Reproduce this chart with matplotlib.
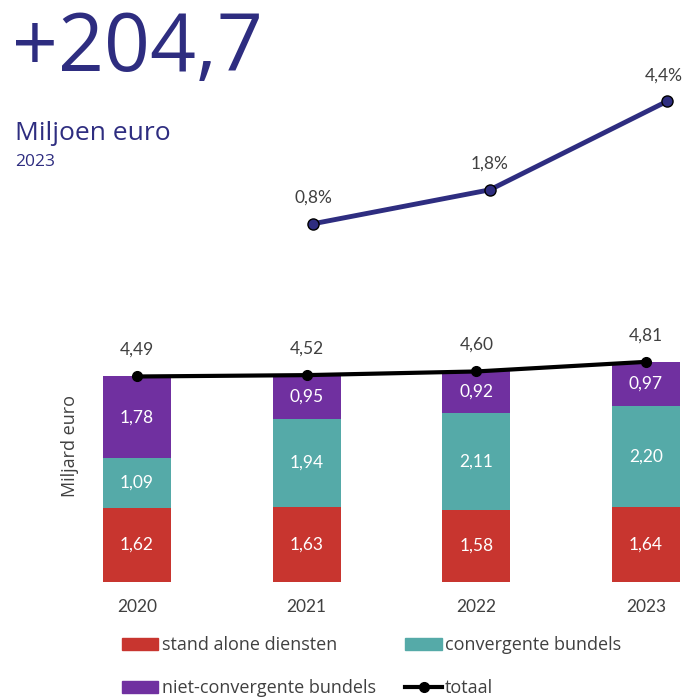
import matplotlib.pyplot as plt
from matplotlib.patches import Patch
from matplotlib.lines import Line2D

jaren = ['2020', '2021', '2022', '2023']
stand_alone = [1.62, 1.63, 1.58, 1.64]
convergent = [1.09, 1.94, 2.11, 2.20]
niet_convergent = [1.78, 0.95, 0.92, 0.97]
totaal = [4.49, 4.52, 4.60, 4.81]
groei_jaren = ['2021', '2022', '2023']
groei = [0.8, 1.8, 4.4]

rood = '#c8352f'
teal = '#55aaa8'
paars = '#7030a0'
navy = '#2e2d80'
grijs = '#404040'

plt.rcParams['font.family'] = ['Lato', 'DejaVu Sans']

fig = plt.figure(figsize=(6.83, 6.98), dpi=100)

# kop
fig.text(0.018, 0.898, '+204,7', fontsize=58, color=navy, family='Open Sans')
fig.text(0.022, 0.80, 'Miljoen euro', fontsize=19, color=navy, family='Open Sans')
fig.text(0.022, 0.762, '2023', fontsize=12.5, color=navy, family='Open Sans')

# staven
ax = fig.add_axes([60.6 / 683, 116 / 698, (680 - 60.6) / 683, 238 / 698])
x = list(range(len(jaren)))
ax.bar(x, stand_alone, width=0.4, color=rood)
bottom2 = stand_alone
ax.bar(x, convergent, width=0.4, bottom=bottom2, color=teal)
bottom3 = [a + b for a, b in zip(stand_alone, convergent)]
ax.bar(x, niet_convergent, width=0.4, bottom=bottom3, color=paars)

for i in x:
    ax.text(i, stand_alone[i] / 2, f'{stand_alone[i]:.2f}'.replace('.', ','),
            ha='center', va='center', color='white', fontsize=12.5)
    ax.text(i, bottom2[i] + convergent[i] / 2, f'{convergent[i]:.2f}'.replace('.', ','),
            ha='center', va='center', color='white', fontsize=12.5)
    ax.text(i, bottom3[i] + niet_convergent[i] / 2, f'{niet_convergent[i]:.2f}'.replace('.', ','),
            ha='center', va='center', color='white', fontsize=12.5)
    ax.text(i, totaal[i] + 0.58, f'{totaal[i]:.2f}'.replace('.', ','),
            ha='center', va='center', color=grijs, fontsize=12.5)

ax.plot(x, totaal, color='black', lw=3, marker='o', markersize=7)

ax.set_xlim(-0.45, 3.2)
ax.set_ylim(0, 5.2)
ax.set_xticks(x)
ax.set_xticklabels(jaren, color=grijs, fontsize=12.5)
ax.tick_params(axis='x', length=0, pad=12)
ax.set_yticks([])
ax.set_ylabel('Miljard euro', color=grijs, fontsize=13, family='Open Sans')
ax.yaxis.set_label_coords(0.03, 0.57)
for s in ax.spines.values():
    s.set_visible(False)

# groeilijn
ax2 = fig.add_axes([242.2 / 683, (698 - 251) / 698, 438.8 / 683, 170 / 698])
gx = [1, 2, 3]
ax2.plot(gx, groei, color=navy, lw=3.5, marker='o', markersize=8,
         markerfacecolor=navy, markeredgecolor='black', markeredgewidth=1)
for xi, g in zip(gx, groei):
    ax2.text(xi - (0.02 if xi == 3 else 0), g + 0.76, f'{g:.1f}%'.replace('.', ','),
             ha='center', va='center', color=grijs, fontsize=12.5)
ax2.set_xlim(0.6, 3.08)
ax2.set_ylim(0, 5)
ax2.axis('off')

# legenda
handles = [
    Patch(color=rood, label='stand alone diensten'),
    Patch(color=paars, label='niet-convergente bundels'),
    Patch(color=teal, label='convergente bundels'),
    Line2D([0], [0], color='black', lw=3, marker='o', markersize=7, label='totaal'),
]
leg = fig.legend(handles=handles, loc='upper left', bbox_to_anchor=(0.168, 0.099),
                 ncol=2, frameon=False, prop={'family': 'Open Sans', 'size': 13},
                 handlelength=2.0, handleheight=0.65, handletextpad=0.2,
                 labelspacing=1.4, columnspacing=1.65, borderaxespad=0)
for t in leg.get_texts():
    t.set_color(grijs)

fig.savefig('out.png', dpi=100)
